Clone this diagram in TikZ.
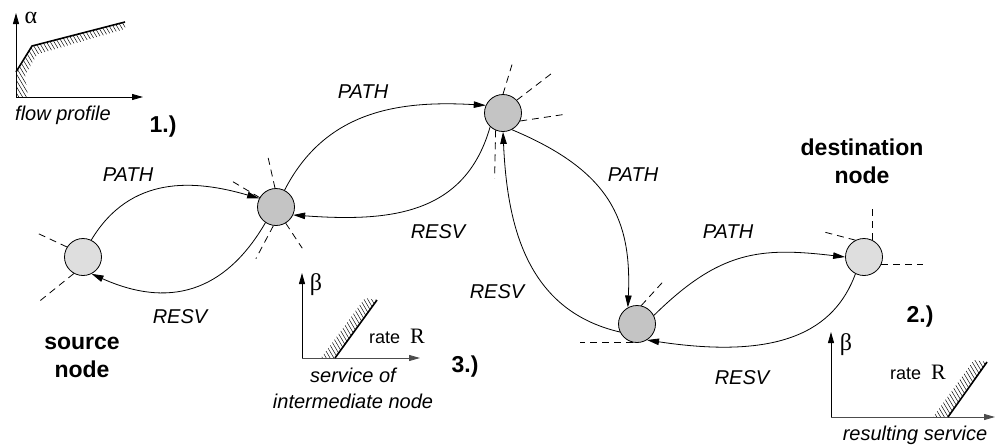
\documentclass[tikz,border=0pt]{standalone}
\usepackage{fontspec}
\setmainfont{Liberation Sans}
\newfontfamily\greekfont{Liberation Serif}
\usetikzlibrary{arrows.meta}
\begin{document}
\begin{tikzpicture}[x=1pt,y=-1pt,
  router/.style={circle,draw,line width=0.8pt,minimum size=37pt,inner sep=0pt},
  core/.style={router,fill=black!23},
  edge/.style={router,fill=black!13},
  msg/.style={line width=0.8pt,-{Triangle[length=12pt,width=6.5pt]}},
  spoke/.style={line width=0.8pt,dash pattern=on 7pt off 5pt},
  lbl/.style={font=\fontsize{20}{26}\selectfont\itshape,inner sep=0pt,align=center},
  title/.style={font=\fontsize{23}{28}\selectfont\bfseries,inner sep=0pt,align=center},
  axis/.style={line width=0.8pt,-{Triangle[length=11pt,width=6pt]}},
  curveline/.style={line width=1.6pt},
  hatch/.style={line width=0.45pt},
  sym/.style={font=\fontsize{24}{26}\selectfont\greekfont,inner sep=0pt},
]
\useasboundingbox (0,0) rectangle (995,445);

% routers
\node[edge] (src) at (83,257) {};
\node[core] (n1) at (276,207) {};
\node[core] (n2) at (503,113) {};
\node[core] (n3) at (637,324) {};
\node[edge] (dst) at (864,257) {};

% other links of each router
\draw[spoke] (src.148) -- +(-30,-14);
\draw[spoke] (src.241) -- +(-36,29);
\draw[spoke] (n1.150) -- +(-27,-16);
\draw[spoke] (n1.93)  -- +(-7,-31);
\draw[spoke] (n1.262) -- +(-17.5,33);
\draw[spoke] (n1.301) -- +(16.5,25);
\draw[spoke] (n2.90)  -- +(9,-29.5);
\draw[spoke] (n2.43)  -- +(36.5,-28);
\draw[spoke] (n2.335) -- +(47,-7);
\draw[spoke] (n2.247) -- +(-1,48);
\draw[spoke] (n3.77)  -- +(21,-23);
\draw[spoke] (n3.257) -- +(-53,0);
\draw[spoke] (dst.65)  -- +(0,-33);
\draw[spoke] (dst.117) -- +(-32.6,-8.5);
\draw[spoke] (dst.336) -- +(42,0);

% PATH messages downstream, RESV messages upstream
\draw[msg] (src.64) .. controls +(39,-65) and +(-65,-19) .. (n1.153);
\draw[msg] (n1.236) .. controls +(-36,62) and +(85,38) .. (src.297);
\draw[msg] (n1.63) .. controls +(41,-80) and +(-86,-5) .. (n2.156);
\draw[msg] (n2.227) .. controls +(-25,88) and +(97,7) .. (n1.335);
\draw[msg] (n2.298) .. controls +(98,41) and +(4,-88) .. (n3.119);
\draw[msg] (n3.205) .. controls +(-95,-22) and +(4,90) .. (n2.270);
\draw[msg] (n3.27) .. controls +(66,-65) and +(-85,-10) .. (dst.180);
\draw[msg] (dst.243) .. controls +(-21,57) and +(133,20) .. (n3.302);

% message labels
\node[lbl] (pathA) at (128,175) {PATH};
\node[lbl] (resvA) at (180,317) {RESV};
\node[lbl] (pathB) at (363,92) {PATH};
\node[lbl] (resvB) at (438,232) {RESV};
\node[lbl] (pathC) at (633,175) {PATH};
\node[lbl] (resvC) at (497,292) {RESV};
\node[lbl] (pathD) at (728,232) {PATH};
\node[lbl] (resvD) at (742,378) {RESV};

% router names and step numbers
\node[title] (srcname) at (82,357) {source\\node};
\node[title] (dstname) at (862,161) {destination\\node};
\node[title] (one) at (163,127) {1.)};
\node[title] (two) at (920,317) {2.)};
\node[title] (three) at (465,367) {3.)};

% flow profile
\begin{scope}
  \clip (16,97) -- (16,72) -- (32,46) -- (125,22) -- (125,29) -- (38,54) -- (25,75) -- (28,97) -- cycle;
  \foreach \i in {0,...,52} \draw[hatch] ({-60+3.8*\i},10) -- ++(60,100);
\end{scope}
\draw[axis] (16,97) -- (16,13);
\draw[axis] (16,97) -- (143,97);
\draw[curveline,line join=round] (16,72) -- (32,46) -- (125,22);
\node[sym] (alpha) at (31,18) {α};
\node[lbl] (fp) at (63,115) {flow profile};

% service of intermediate node
\begin{scope}
  \clip (335,358) -- (377,300) -- (365,298) -- (321,358) -- cycle;
  \foreach \i in {0,...,38} \draw[hatch] ({250+3.8*\i},280) -- ++(50,85);
\end{scope}
\draw[axis] (302,358) -- (302,273);
\draw[axis,draw=black!70] (302,358) -- (420,358);
\draw[curveline] (335,358) -- (377,300);
\node[sym] (betaA) at (316,285) {β};
\node[inner sep=0pt] (rateA) at (397,336) {\fontsize{18}{22}\selectfont rate\ \ {\greekfont\fontsize{22}{22}\selectfont R}};
\node[lbl] (svc) at (353,388) {service of\\intermediate node};

% resulting service
\begin{scope}
  \clip (948,417) -- (987,362) -- (974,360) -- (933,417) -- cycle;
  \foreach \i in {0,...,36} \draw[hatch] ({870+3.8*\i},350) -- ++(48,80);
\end{scope}
\draw[axis] (831,417) -- (831,332);
\draw[axis,draw=black!70] (831,417) -- (995,417);
\draw[curveline] (948,417) -- (987,362);
\node[sym] (betaB) at (846,345) {β};
\node[inner sep=0pt] (rateB) at (918,372) {\fontsize{18}{22}\selectfont rate\ \ {\greekfont\fontsize{22}{22}\selectfont R}};
\node[lbl] (res) at (915,435) {resulting service};
\end{tikzpicture}
\end{document}
